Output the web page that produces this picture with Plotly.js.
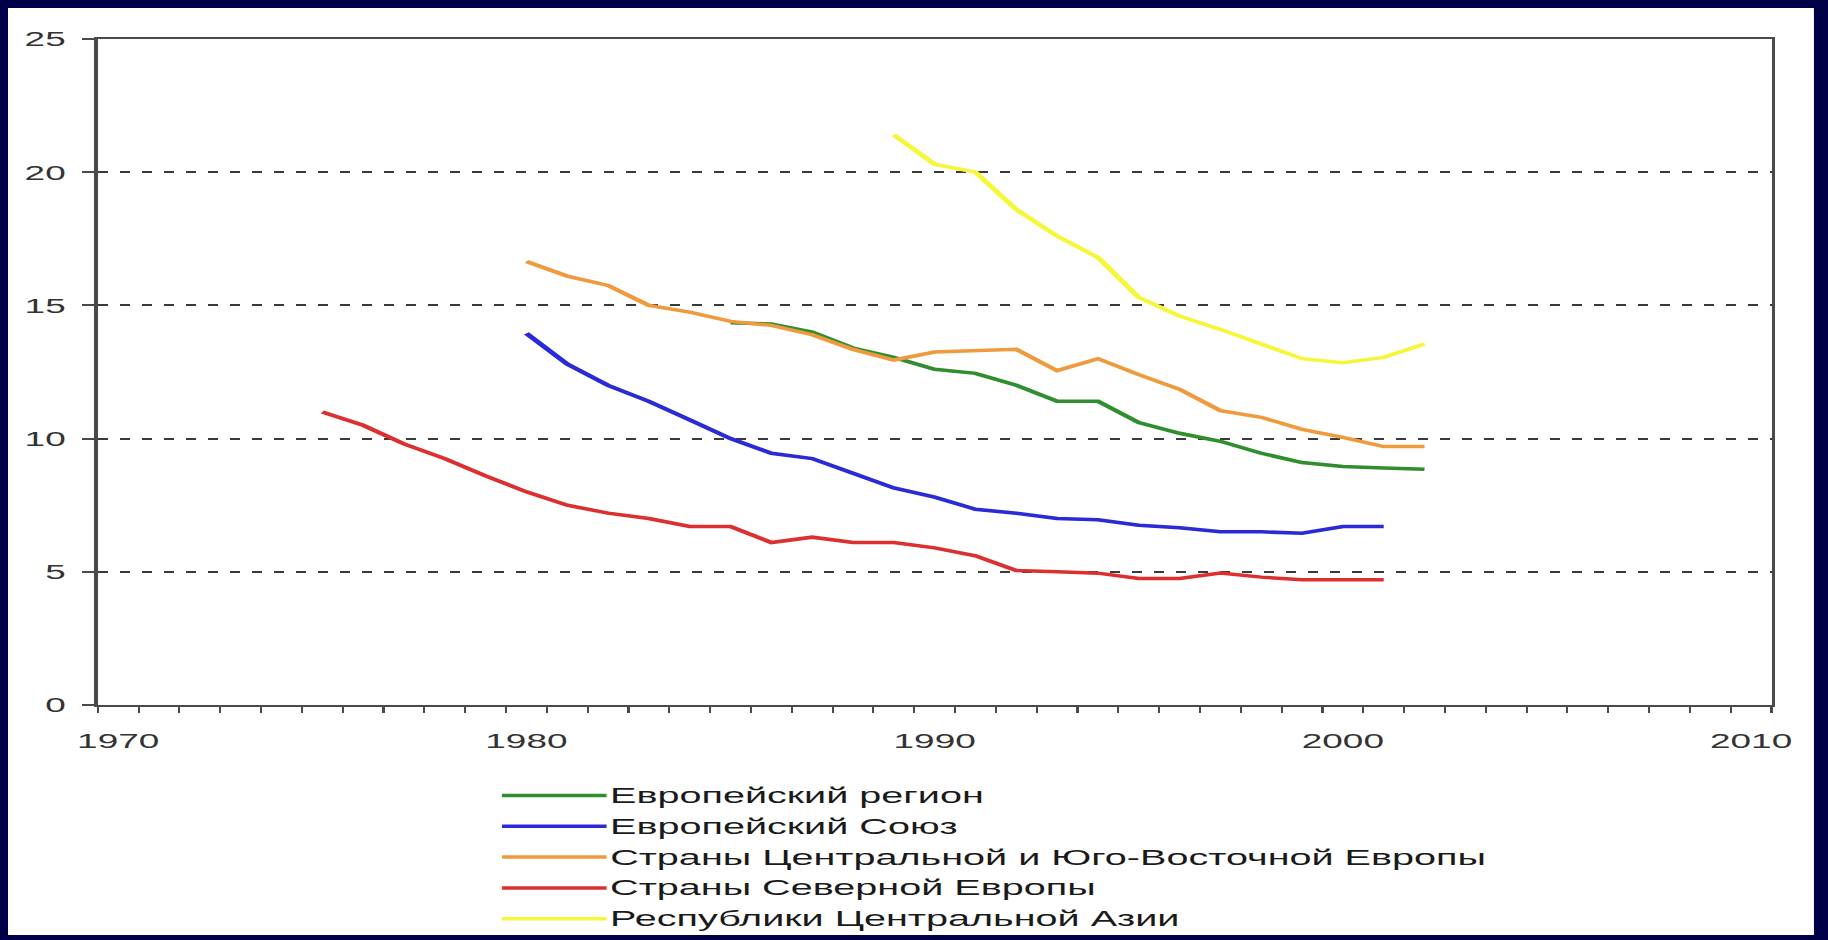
<!DOCTYPE html>
<html>
<head>
<meta charset="utf-8">
<script src="https://cdn.plot.ly/plotly-3.0.1.min.js"></script>
<style>
  html, body { margin: 0; padding: 0; background: #000048; width: 1828px; height: 940px; overflow: hidden; }
  #chart { position: absolute; left: 8px; top: 8px; width: 1026px; height: 927px; background: #ffffff;
           transform-origin: 0 0; transform: scaleX(1.76); }
</style>
</head>
<body>
<div id="chart"></div>
<script>
// Series names (legend labels)
const seriesNames = [
  "Европейский регион",
  "Европейский Союз",
  "Страны Центральной и Юго-Восточной Европы",
  "Страны Северной Европы",
  "Республики Центральной Азии"
];

// Years and values per series
const yearsEuroRegion = [1985,1986,1987,1988,1989,1990,1991,1992,1993,1994,1995,1996,1997,1998,1999,2000,2001,2002];
const valuesEuroRegion = [14.35,14.3,14.0,13.4,13.05,12.6,12.45,12.0,11.4,11.4,10.6,10.2,9.9,9.45,9.1,8.95,8.9,8.85];

const yearsEU = [1980,1981,1982,1983,1984,1985,1986,1987,1988,1989,1990,1991,1992,1993,1994,1995,1996,1997,1998,1999,2000,2001];
const valuesEU = [13.95,12.8,12.0,11.4,10.7,10.0,9.45,9.25,8.7,8.15,7.8,7.35,7.2,7.0,6.95,6.75,6.65,6.5,6.5,6.45,6.7,6.7];

const yearsCSEE = [1980,1981,1982,1983,1984,1985,1986,1987,1988,1989,1990,1991,1992,1993,1994,1995,1996,1997,1998,1999,2000,2001,2002];
const valuesCSEE = [16.65,16.1,15.75,15.0,14.75,14.4,14.25,13.9,13.35,12.95,13.25,13.3,13.35,12.55,13.0,12.4,11.85,11.05,10.8,10.35,10.05,9.7,9.7];

const yearsNordic = [1975,1976,1977,1978,1979,1980,1981,1982,1983,1984,1985,1986,1987,1988,1989,1990,1991,1992,1993,1994,1995,1996,1997,1998,1999,2000,2001];
const valuesNordic = [11.0,10.5,9.8,9.25,8.6,8.0,7.5,7.2,7.0,6.7,6.7,6.1,6.3,6.1,6.1,5.9,5.6,5.05,5.0,4.95,4.75,4.75,4.95,4.8,4.7,4.7,4.7];

const yearsCAR = [1989,1990,1991,1992,1993,1994,1995,1996,1997,1998,1999,2000,2001,2002];
const valuesCAR = [21.4,20.3,20.0,18.6,17.6,16.8,15.3,14.6,14.1,13.55,13.0,12.85,13.05,13.55];

// Axis tick labels
const xTickYears = [1970,1980,1990,2000,2010];
const xTickLabels = ["1970","1980","1990","2000","2010"];
const yTickValues = [0,5,10,15,20,25];
const yTickLabels = ["0","5","10","15","20","25"];

const colors = ["#2f8f2f", "#2a2ad6", "#f09a3e", "#dc2f2f", "#f6f63a"];

const xs = [yearsEuroRegion, yearsEU, yearsCSEE, yearsNordic, yearsCAR];
const ys = [valuesEuroRegion, valuesEU, valuesCSEE, valuesNordic, valuesCAR];

const traces = seriesNames.map((name, i) => ({
  type: "scatter",
  mode: "lines",
  name: name,
  x: xs[i],
  y: ys[i],
  line: { color: colors[i], width: 3.5 }
}));

const axisColor = "#4a4a4a";
const fontFamily = "Liberation Sans, Arial, sans-serif";

// Legend drawn below the plot: a line sample followed by the series name
const legendLineX0 = 0.2415, legendLineX1 = 0.304;
const legendTopY = -0.136, legendStep = 0.0462;
const legendShapes = seriesNames.map((name, i) => ({
  type: "line", xref: "paper", yref: "paper",
  x0: legendLineX0, x1: legendLineX1,
  y0: legendTopY - i * legendStep, y1: legendTopY - i * legendStep,
  line: { color: colors[i], width: 3.5 }
}));
const legendAnnotations = seriesNames.map((name, i) => ({
  xref: "paper", yref: "paper",
  x: legendLineX1, xanchor: "left",
  y: legendTopY - i * legendStep, yanchor: "middle",
  text: name, showarrow: false,
  font: { family: fontFamily, size: 22.5, color: "#1a1a1a" }
}));

const layout = {
  width: 1026,
  height: 927,
  paper_bgcolor: "#ffffff",
  plot_bgcolor: "#ffffff",
  margin: { l: 50.6, r: 24.4, t: 31, b: 230 },
  showlegend: false,
  shapes: legendShapes,
  annotations: legendAnnotations,
  xaxis: {
    range: [1969.5, 2010.5],
    tickmode: "array",
    tickvals: xTickYears,
    ticktext: xTickLabels,
    ticks: "",
    ticklabelstandoff: 16,
    showgrid: false,
    zeroline: false,
    showline: true,
    linecolor: axisColor,
    linewidth: 2,
    mirror: true,
    tickfont: { family: fontFamily, size: 21, color: "#333333" },
    minor: { ticks: "outside", tick0: 1969.5, dtick: 1, ticklen: 6, tickwidth: 1.2, tickcolor: axisColor, showgrid: false }
  },
  yaxis: {
    range: [0, 25],
    tickmode: "array",
    tickvals: yTickValues,
    ticktext: yTickLabels,
    ticks: "outside",
    ticklen: 7,
    tickwidth: 2,
    tickcolor: axisColor,
    ticklabelstandoff: 5,
    showgrid: true,
    gridcolor: "#3a3a3a",
    gridwidth: 2,
    griddash: "5.7px,6.8px",
    zeroline: false,
    showline: true,
    linecolor: axisColor,
    linewidth: 2,
    mirror: true,
    tickfont: { family: fontFamily, size: 21, color: "#333333" }
  },
  hovermode: false
};

Plotly.newPlot("chart", traces, layout, { displayModeBar: false, staticPlot: true });
</script>
</body>
</html>
